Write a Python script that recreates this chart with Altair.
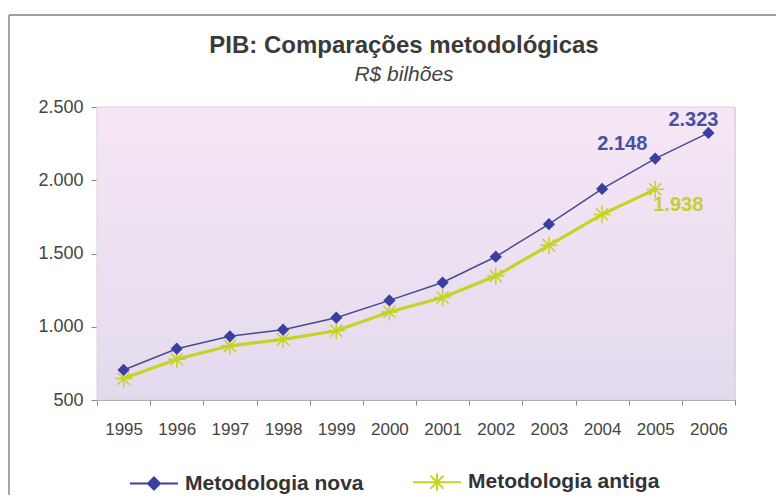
import altair as alt
import pandas as pd

years = [1995, 1996, 1997, 1998, 1999, 2000, 2001, 2002, 2003, 2004, 2005, 2006]
nova = [705, 850, 935, 980, 1062, 1180, 1302, 1478, 1700, 1941, 2148, 2323]
antiga_years = [1995, 1996, 1997, 1998, 1999, 2000, 2001, 2002, 2003, 2004, 2005]
antiga = [646, 778, 870, 914, 973, 1101, 1199, 1346, 1556, 1767, 1938]
series_names = ["Metodologia nova", "Metodologia antiga"]
y_ticks = [500, 1000, 1500, 2000, 2500]

NAVY = "#3b3f9f"
NAVY_LINE = "#4a4a8e"
GREEN = "#c6d225"
FONT = "Liberation Sans"

rows = [{"ano": str(y), "valor": v, "serie": series_names[0]} for y, v in zip(years, nova)]
rows += [{"ano": str(y), "valor": v, "serie": series_names[1]} for y, v in zip(antiga_years, antiga)]
df = pd.DataFrame(rows)

W, H = 638, 293

fmt = "replace(format(datum.valor, ','), ',', '.')"

x = alt.X("ano:O", title=None,
          scale=alt.Scale(type="band", paddingInner=0, paddingOuter=0, domain=[str(y) for y in years]),
          axis=alt.Axis(labelAngle=0, tickBand="extent", labelFontSize=17, labelColor="#444",
                        labelFont=FONT, domainColor="#888", tickColor="#888", tickSize=5,
                        labelPadding=16, grid=False))
y = alt.Y("valor:Q", title=None,
          scale=alt.Scale(domain=[500, 2500], nice=False),
          axis=alt.Axis(values=y_ticks, labelExpr="replace(format(datum.value, ','), ',', '.')",
                        labelFontSize=18, labelColor="#444", labelFont=FONT,
                        domainColor="#888", tickColor="#888", tickSize=6, labelPadding=8,
                        grid=True, gridColor="#ffffff", gridWidth=1.2, gridOpacity=0.9))

base = alt.Chart(df)
is_nova = alt.datum.serie == series_names[0]
is_antiga = alt.datum.serie == series_names[1]

bg = alt.Chart(pd.DataFrame({"a": [0]})).mark_rect(
    color={"gradient": "linear", "x1": 0, "y1": 0, "x2": 0, "y2": 1,
           "stops": [{"offset": 0, "color": "#f7e6f6"}, {"offset": 1, "color": "#e2dbed"}]},
    stroke="#d4d4d4", strokeWidth=1
).encode(x=alt.value(0), x2=alt.value(W), y=alt.value(0), y2=alt.value(H))

border_top = alt.Chart(pd.DataFrame({"a": [0]})).mark_rule(color="#a0a0a0", strokeWidth=2).encode(
    x=alt.value(-88), x2=alt.value(687), y=alt.value(-92))
border_left = alt.Chart(pd.DataFrame({"a": [0]})).mark_rule(color="#8a8a8a", strokeWidth=1.5).encode(
    x=alt.value(-88), y=alt.value(-92), y2=alt.value(400))

P1 = ("M-1,0L1,0M0,-0.25L0.25,0L0,0.25L-0.25,0Z"
      "M0,-0.16L0.16,0L0,0.16L-0.16,0ZM0,-0.07L0.07,0L0,0.07L-0.07,0Z")
P2 = "M-1,0L1,0M-0.27,-0.27L0.27,0.27M-0.27,0.27L0.27,-0.27M0,-0.36L0,0.36"

legend = alt.Legend(
    orient="none", legendX=32, legendY=350, direction="horizontal", title=None,
    labelFont=FONT, labelFontSize=21, labelFontWeight="bold", labelColor="#333",
    symbolSize=2304, labelOffset=6, columnPadding=45, symbolStrokeWidth=2, symbolOpacity=1,
    labelLimit=400)

legend_layer = base.mark_point(filled=False, opacity=0, size=10).encode(
    x=x, y=y,
    color=alt.Color("serie:N", scale=alt.Scale(domain=series_names, range=[NAVY, GREEN]), legend=legend),
    shape=alt.Shape("serie:N", scale=alt.Scale(domain=series_names, range=[P1, P2]), legend=legend),
)

line_nova = base.transform_filter(is_nova).mark_line(color=NAVY_LINE, strokeWidth=1.5).encode(x=x, y=y)
line_antiga = base.transform_filter(is_antiga).mark_line(color=GREEN, strokeWidth=3.2).encode(x=x, y=y)

pts_nova = base.transform_filter(is_nova).mark_point(
    shape="diamond", filled=True, color=NAVY, size=150, opacity=1
).encode(x=x, y=y)

pts_antiga = base.transform_filter(is_antiga).mark_point(
    shape="M-1,0L1,0M0,-1L0,1M-0.7,-0.7L0.7,0.7M-0.7,0.7L0.7,-0.7", filled=False,
    color=GREEN, size=300, strokeWidth=1.5, opacity=1
).encode(x=x, y=y)

lab_style = dict(font=FONT, fontSize=20, fontWeight="bold")

lab_2148 = base.transform_filter(is_nova & (alt.datum.ano == "2005")).transform_calculate(
    txt=fmt).mark_text(color="#4750a3", dx=-33, dy=-15, **lab_style).encode(x=x, y=y, text="txt:N")
lab_2323 = base.transform_filter(is_nova & (alt.datum.ano == "2006")).transform_calculate(
    txt=fmt).mark_text(color="#4750a3", dx=-15, dy=-13, **lab_style).encode(x=x, y=y, text="txt:N")
lab_1938 = base.transform_filter(is_antiga & (alt.datum.ano == "2005")).transform_calculate(
    txt=fmt).mark_text(color="#c6cf2c", dx=23, dy=16, **lab_style).encode(x=x, y=y, text="txt:N")

chart = alt.layer(bg, border_top, border_left, legend_layer, line_antiga, line_nova, pts_antiga, pts_nova,
                  lab_2148, lab_2323, lab_1938).properties(
    width=W, height=H,
    title=alt.TitleParams(
        text="PIB: Comparações metodológicas", subtitle="R$ bilhões",
        font=FONT, fontSize=24, fontWeight="bold", color="#3a3a3a",
        subtitleFont=FONT, subtitleFontSize=21, subtitleFontStyle="italic", subtitleColor="#444",
        subtitlePadding=6, anchor="middle", offset=12, dy=83, dx=-12,
    ),
    autosize=alt.AutoSizeParams(type="none"),
    padding={"left": 89, "top": 99, "right": 41, "bottom": 95},
).configure_view(stroke=None).configure(background="white")

chart.save("out.html", embed_options={"renderer": "svg", "actions": False})
